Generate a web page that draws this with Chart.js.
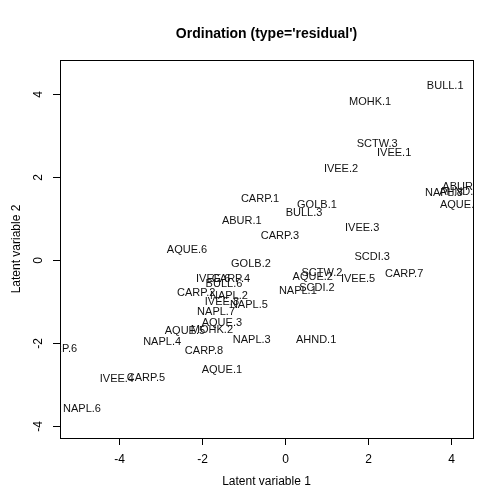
<!DOCTYPE html><html><head><script src="https://cdn.jsdelivr.net/npm/chart.js@4"></script>
<style>body{margin:0;background:#fff}#w{width:504px;height:504px}</style></head><body><div id="w"><canvas id="c"></canvas></div><script>
const labels=["BULL.1","MOHK.1","SCTW.3","IVEE.1","IVEE.2","NAPL.8","ABUR.2","AHND.2","AQUE.4","CARP.1","GOLB.1","BULL.3","ABUR.1","IVEE.3","CARP.3","AQUE.6","SCDI.3","GOLB.2","CARP.7","SCTW.2","AQUE.2","IVEE.5","IVEE.6","CARP.4","BULL.6","NAPL.1","SCDI.2","CARP.2","NAPL.2","IVEE.8","NAPL.5","NAPL.7","AQUE.3","MOHK.2","AQUE.5","NAPL.4","NAPL.3","AHND.1","CARP.8","AQUE.1","CARP.6","IVEE.4","CARP.5","NAPL.6"];
const xs=[3.86,2.05,2.22,2.63,1.35,3.83,4.27,4.2,4.22,-0.60,0.77,0.46,-1.04,1.86,-0.12,-2.36,2.10,-0.82,2.87,0.89,0.67,1.76,-1.73,-1.30,-1.47,0.31,0.77,-2.14,-1.35,-1.52,-0.87,-1.66,-1.52,-1.76,-2.41,-2.96,-0.80,0.75,-1.95,-1.52,-5.47,-4.05,-3.35,-4.89];
const ys=[4.22,3.83,2.82,2.60,2.22,1.64,1.78,1.66,1.35,1.49,1.35,1.16,0.96,0.80,0.60,0.27,0.10,-0.07,-0.31,-0.29,-0.39,-0.43,-0.43,-0.43,-0.55,-0.72,-0.65,-0.77,-0.84,-0.99,-1.06,-1.23,-1.49,-1.66,-1.69,-1.95,-1.90,-1.90,-2.17,-2.63,-2.12,-2.84,-2.82,-3.57];
const ticks=[-4,-2,0,2,4];
const F='"Liberation Sans",Arial,sans-serif';
const plug={id:'p',afterDraw(ch){const c=ch.ctx,a=ch.chartArea,X=ch.scales.x,Y=ch.scales.y;c.save();
c.strokeStyle='#000';c.lineWidth=1;c.strokeRect(a.left+.5,a.top+.5,a.right-a.left,a.bottom-a.top);
c.fillStyle='#000';c.font='12px '+F;c.textAlign='center';c.textBaseline='top';
ticks.forEach(t=>{const px=Math.round(X.getPixelForValue(t))+.5;c.beginPath();c.moveTo(px,a.bottom);c.lineTo(px,a.bottom+7);c.stroke();c.fillText(t,px,a.bottom+16);
const py=Math.round(Y.getPixelForValue(t))+.5;c.beginPath();c.moveTo(a.left,py);c.lineTo(a.left-7,py);c.stroke();
c.save();c.translate(a.left-19,py);c.rotate(-Math.PI/2);c.textBaseline='bottom';c.fillText(t,0,4);c.restore();});
c.fillText('Latent variable 1',(a.left+a.right)/2,476);
c.save();c.translate(17,(a.top+a.bottom)/2);c.rotate(-Math.PI/2);c.textBaseline='middle';c.fillText('Latent variable 2',0,0);c.restore();
c.font='bold 14px '+F;c.fillText("Ordination (type='residual')",(a.left+a.right)/2,27);
c.beginPath();c.rect(a.left,a.top,a.right-a.left,a.bottom-a.top);c.clip();
c.font='11px '+F;c.textBaseline='middle';c.fillStyle='#111';
ch.data.datasets[0].data.forEach((d,i)=>{c.fillText(labels[i],X.getPixelForValue(d.x),Y.getPixelForValue(d.y)+1);});
c.restore();}};
new Chart(document.getElementById('c'),{type:'scatter',data:{datasets:[{data:xs.map((x,i)=>({x,y:ys[i]})),pointRadius:0}]},
options:{responsive:true,maintainAspectRatio:false,animation:false,layout:{padding:{left:60,right:31,top:60,bottom:66}},
plugins:{legend:{display:false},tooltip:{enabled:false}},
scales:{x:{display:false,min:-5.42,max:4.53},y:{display:false,min:-4.29,max:4.82}}},plugins:[plug]});
</script></body></html>
